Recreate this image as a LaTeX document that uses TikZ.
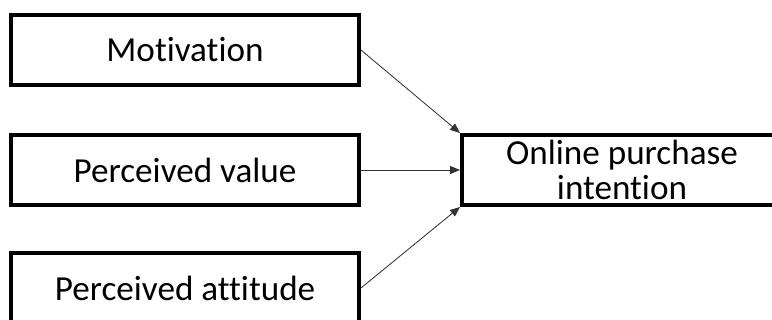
\documentclass[tikz,border=0pt]{standalone}
\usepackage{fontspec}
\setmainfont[Ligatures=NoCommon]{Carlito}
\usetikzlibrary{arrows.meta}
\pgfdeclarelayer{edgelayer}
\pgfdeclarelayer{nodelayer}
\pgfsetlayers{edgelayer,nodelayer,main}
\tikzset{font=\fontsize{25}{25}\selectfont}
\tikzstyle{none}=[inner sep=0pt]
\tikzstyle{factor}=[rectangle,draw,line width=2.8pt,minimum width=8.7cm,minimum height=1.75cm,inner sep=0pt]
\tikzstyle{outcome}=[rectangle,draw,line width=2.8pt,minimum width=8cm,minimum height=1.75cm,inner sep=0pt,align=center]
\tikzstyle{link}=[line width=0.6pt,draw=black!80,-{Triangle[length=2.5mm,width=2mm]}]

\begin{document}
\begin{tikzpicture}
	\useasboundingbox (0, 0) rectangle (19.3, 8);
	\begin{pgfonlayer}{nodelayer}
		\node [style=factor] (0) at (4.625, 6.75) {Motivation};
		\node [style=factor] (1) at (4.625, 3.75) {Perceived value};
		\node [style=factor] (2) at (4.625, 0.8) {Perceived attitude};
		\node [style=outcome] (3) at (15.55, 3.75) {Online purchase\\intention};
	\end{pgfonlayer}
	\begin{pgfonlayer}{edgelayer}
		\draw [style=link] (0.east) to (3.north west);
		\draw [style=link] (1.east) to (3.west);
		\draw [style=link] (2.east) to (3.south west);
	\end{pgfonlayer}
\end{tikzpicture}
\end{document}
